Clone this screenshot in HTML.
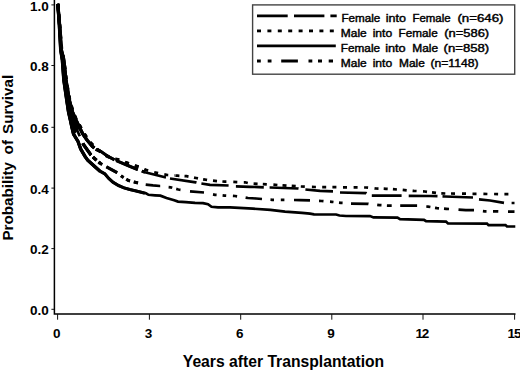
<!DOCTYPE html>
<html><head><meta charset="utf-8"><style>
html,body{margin:0;padding:0;background:#fff;}
body{width:520px;height:373px;overflow:hidden;}
svg{display:block;}
text{font-family:"Liberation Sans",sans-serif;}
</style></head><body>
<svg width="520" height="373" viewBox="0 0 520 373">
<rect width="520" height="373" fill="#fff"/>
<g stroke="#000" stroke-width="1.5" fill="none">
<path d="M54.4 0V314H515.5"/>
</g>
<g stroke="#111" stroke-width="1"><line x1="51.4" y1="309.3" x2="54" y2="309.3"/><line x1="51.4" y1="248.6" x2="54" y2="248.6"/><line x1="51.4" y1="188.1" x2="54" y2="188.1"/><line x1="51.4" y1="127.3" x2="54" y2="127.3"/><line x1="51.4" y1="65.5" x2="54" y2="65.5"/><line x1="51.4" y1="4.9" x2="54" y2="4.9"/><line x1="57.6" y1="314" x2="57.6" y2="319.7"/><line x1="149.4" y1="314" x2="149.4" y2="319.7"/><line x1="240.7" y1="314" x2="240.7" y2="319.7"/><line x1="331.8" y1="314" x2="331.8" y2="319.7"/><line x1="423.0" y1="314" x2="423.0" y2="319.7"/><line x1="514.6" y1="314" x2="514.6" y2="319.7"/></g>
<g font-weight="bold" font-size="13.5" fill="#000"><text x="48.9" y="314.8" text-anchor="end">0.0</text><text x="48.9" y="254.1" text-anchor="end">0.2</text><text x="48.9" y="193.6" text-anchor="end">0.4</text><text x="48.9" y="132.8" text-anchor="end">0.6</text><text x="48.9" y="71.0" text-anchor="end">0.8</text><text x="48.9" y="11.4" text-anchor="end">1.0</text><text x="56.8" y="338.3" text-anchor="middle">0</text><text x="148.6" y="338.3" text-anchor="middle">3</text><text x="239.8" y="338.3" text-anchor="middle">6</text><text x="330.9" y="338.3" text-anchor="middle">9</text><text x="415.5" y="338.3" textLength="13.8" lengthAdjust="spacing">12</text><text x="507.6" y="338.3" textLength="13.8" lengthAdjust="spacing">15</text></g>
<text x="283.5" y="366.6" font-weight="bold" font-size="15.7" text-anchor="middle">Years after Transplantation</text>
<g font-weight="bold" font-size="15.2"><text transform="translate(12.9,240.6) rotate(-90)">Probability</text><text transform="translate(12.9,154.4) rotate(-90)">of</text><text transform="translate(12.9,133.9) rotate(-90)">Survival</text></g>
<g fill="none" stroke="#000" stroke-width="2.7" stroke-linejoin="miter">
<polygon points="57.8,3.9 59.3,25.0 60.7,50.0 62.3,60.0 63.8,80.0 66.7,100.0 68.5,112.0 70.3,120.0 71.8,127.0 73.5,134.0 79.3,127.0 76.0,120.0 72.5,112.0 69.3,100.0 66.0,80.0 63.8,60.0 61.4,50.0 59.6,25.0 57.8,3.9" fill="#000" stroke-width="2"/>
<polyline points="57.8,3.9 59.3,25.0 60.7,50.0 62.3,60.0 63.8,80.0 66.7,100.0 68.5,112.0 70.3,120.0 71.8,127.0 73.5,134.0 78.0,141.4 80.7,149.0 85.0,156.4 87.7,160.2 93.6,165.5 100.0,171.2 104.8,173.8 108.8,178.5 112.9,182.2 118.5,185.5 124.1,187.9 130.0,189.6 136.0,190.9 144.0,192.9 146.0,193.3 148.5,194.8 155.0,195.3 160.4,195.7 166.5,198.0 174.2,200.3 178.0,201.6 185.8,202.2 195.0,202.8 203.0,203.1 208.0,204.2 211.5,206.8 218.0,207.3 230.0,207.4 253.0,208.7 270.4,209.8 285.0,211.6 302.0,212.8 310.0,213.7 314.0,214.4 336.0,214.5 339.5,215.5 346.0,216.0 370.0,216.1 373.5,217.4 397.5,217.7 400.0,219.2 424.0,219.8 426.0,221.2 446.0,221.6 448.0,223.5 487.0,223.6 488.5,225.1 505.5,225.1 507.0,226.5 515.3,226.5"/>
<polyline points="57.8,3.9 59.4,25.0 60.9,50.0 62.8,60.0 64.8,80.0 67.8,100.0 70.3,112.0 73.2,120.0 75.8,127.0 78.8,134.0 80.5,137.9" stroke-dasharray="17 9 4 6 4 6 4 9"/>
<path d="M82.9 143.3 L83.4 144.4 L90.9 155.0 L91.0 155.1 M93.0 157.0 L94.6 158.6 L96.5 160.2 M98.6 162.0 L100.3 163.4 L102.2 164.5 M106.4 166.8 L117.2 172.7 M121.0 175.7 L122.3 176.7 L123.6 177.5 M126.3 179.2 L128.2 180.4 L130.0 180.9 M133.8 181.9 L135.9 182.4 L138.0 182.9 M145.7 184.6 L153.0 185.4 L160.0 186.0 L160.2 186.0 M168.6 187.1 L170.5 187.3 L172.3 187.8 M176.2 188.9 L178.3 189.5 L180.5 189.8 M190.0 191.3 L204.0 192.5 M213.0 194.4 L215.0 194.8 L216.6 194.9 M222.6 195.4 L224.4 195.6 L226.2 195.7 M232.9 195.9 L235.0 196.0 L237.1 196.3 M245.6 197.6 L248.0 198.0 L256.0 198.5 L262.0 199.0 M270.5 199.7 L272.0 199.8 L274.0 199.8 M280.8 199.8 L282.6 199.8 L284.4 199.8 M294.0 200.0 L300.0 200.1 L310.0 200.4 M319.0 200.9 L321.5 201.0 L323.5 201.2 M330.0 201.7 L331.8 201.8 L333.5 202.0 M339.0 202.6 L340.8 202.8 L342.6 202.9 M351.0 203.6 L368.0 203.8 L368.5 203.9 M377.2 204.8 L379.4 205.1 L381.5 205.2 M386.9 205.6 L389.3 205.7 L391.7 205.7 M400.2 205.7 L417.0 205.7 L417.1 205.7 M426.3 206.5 L428.0 206.6 L430.4 207.0 M435.0 207.8 L437.0 208.1 L439.0 208.3 M444.0 208.6 L446.3 208.8 L449.0 209.0 M458.5 209.6 L465.8 210.1 L474.0 210.2 M482.9 211.1 L484.7 211.3 L486.5 211.3 M493.0 211.3 L495.6 211.3 L498.3 211.4 M508.0 211.6 L514.5 211.7 "/>
<path d="M57.8 3.9 L59.6 25.0 L61.4 50.0 L63.8 60.0 L66.0 80.0 L69.3 100.0 L72.5 112.0 L76.0 120.0 L79.3 127.0 L82.8 134.0 L87.0 140.0 L92.5 146.5 L94.4 147.9 M96.0 149.1 L96.5 149.5 L101.0 151.5 L106.0 155.0 L110.0 157.5 L114.5 159.8 M116.2 160.6 L129.0 166.0 L137.5 169.5 L137.8 169.6 M141.8 171.1 L145.0 172.3 L160.0 176.0 L166.0 177.5 M170.0 178.5 L195.7 182.3 L196.5 182.5 M201.4 183.5 L210.0 184.8 L228.6 185.5 M235.9 186.3 L236.0 186.3 L250.0 186.8 L263.8 187.3 M269.6 187.5 L270.0 187.5 L298.0 188.5 L298.5 188.6 M305.4 189.5 L320.0 190.8 L333.0 191.3 M340.0 192.5 L366.0 193.1 L366.5 193.4 M371.8 195.6 L401.6 195.7 M408.7 195.8 L430.0 196.0 L437.5 196.2 M442.5 196.4 L445.0 196.5 L473.0 197.5 M479.0 199.4 L490.0 200.5 L504.0 202.9 M511.6 203.0 L514.5 203.0 "/>
<polyline points="57.8,3.9 59.8,25.0 61.8,50.0 64.0,60.0 66.3,80.0 69.8,100.0 73.2,112.0 76.6,120.0 80.6,127.0 84.6,134.0 89.0,141.0 95.0,147.3 104.3,155.0 112.0,158.5 119.3,159.8 124.7,162.0 129.0,163.6 134.3,165.5 140.0,167.2 145.0,169.6 152.0,171.8 160.0,173.6 167.5,175.0 175.0,175.5" stroke-dasharray="4 6.3"/>
<path d="M175.4 175.6 L177.5 175.7 L179.4 175.8 M184.5 176.1 L186.5 176.2 L188.5 176.6 M194.0 177.6 L196.0 178.0 L198.0 178.4 M203.1 179.3 L205.4 179.7 L207.1 179.9 M213.0 180.7 L215.0 180.9 L217.0 181.1 M222.4 181.5 L225.0 181.7 L226.4 181.7 M233.3 181.9 L237.3 182.1 M243.8 182.3 L245.0 182.3 L247.8 183.0 M253.6 183.7 L257.6 183.9 M262.8 184.1 L266.8 184.3 M273.4 184.7 L277.4 185.0 M282.5 185.3 L286.5 185.6 M291.7 185.9 L295.7 186.2 M300.8 186.5 L304.8 186.7 M311.9 186.9 L315.0 187.0 L315.9 187.0 M322.2 187.1 L326.2 187.1 M332.4 187.2 L336.4 187.2 M343.0 187.3 L347.0 187.3 M353.6 187.4 L357.6 187.4 M364.1 187.5 L366.0 187.5 L368.1 187.7 M374.5 188.3 L376.0 188.5 L378.5 188.6 M383.7 188.7 L386.0 188.8 L387.7 188.9 M392.9 189.2 L396.9 189.5 M402.7 189.9 L406.7 190.3 M412.6 190.8 L414.0 190.9 L416.6 191.0 M423.0 191.4 L425.0 191.5 L427.0 191.8 M432.0 192.4 L436.0 192.9 M441.3 193.4 L445.3 193.5 M451.0 193.5 L455.0 193.6 M462.0 193.7 L466.0 193.7 M472.5 193.8 L475.0 193.8 L476.5 193.8 M483.4 193.9 L487.4 194.0 M494.1 194.0 L498.1 194.1 M504.4 194.2 L508.4 194.2 "/>
<g stroke-width="3.1"><path d="M57.8 3.9 L59.3 25.0 L60.7 50.0 L62.3 60.0 L63.8 80.0 L66.7 100.0 L68.5 112.0 L70.3 120.0 L71.8 127.0 L73.5 134.0 L78.0 141.4 L80.7 149.0 L85.0 156.4 L87.7 160.2 L93.6 165.5 L100.0 171.2 L104.8 173.8 L108.8 178.5 L112.9 182.2 L118.5 185.5 L124.1 187.9 L130.0 189.6 L136.0 190.9 L144.0 192.9 L145.0 193.1 "/><path d="M82.9 143.3 L83.4 144.4 L90.9 155.0 L91.0 155.1 M93.0 157.0 L94.6 158.6 L96.5 160.2 M98.6 162.0 L100.3 163.4 L102.2 164.5 M106.4 166.8 L117.2 172.7 M121.0 175.7 L122.3 176.7 L123.6 177.5 M126.3 179.2 L128.2 180.4 L130.0 180.9 M133.8 181.9 L135.9 182.4 L138.0 182.9 "/><path d="M57.8 3.9 L59.6 25.0 L61.4 50.0 L63.8 60.0 L66.0 80.0 L69.3 100.0 L72.5 112.0 L76.0 120.0 L79.3 127.0 L82.8 134.0 L87.0 140.0 L92.5 146.5 L94.4 147.9 M96.0 149.1 L96.5 149.5 L101.0 151.5 L106.0 155.0 L110.0 157.5 L114.5 159.8 M116.2 160.6 L129.0 166.0 L137.5 169.5 L137.8 169.6 M141.8 171.1 L145.0 172.3 "/><polyline points="57.8,3.9 59.8,25.0 61.8,50.0 64.0,60.0 66.3,80.0 69.8,100.0 73.2,112.0 76.6,120.0 80.6,127.0 84.6,134.0 89.0,141.0 95.0,147.3 104.3,155.0 112.0,158.5 119.3,159.8 124.7,162.0 129.0,163.6 134.3,165.5 140.0,167.2 145.0,169.6" stroke-dasharray="4 6.3"/></g>
<g stroke-width="3.3"><path d="M57.8 3.9 L59.3 25.0 L60.7 50.0 L62.3 60.0 L63.8 80.0 L66.7 100.0 L68.5 112.0 L70.3 120.0 L71.8 127.0 L73.5 134.0 L78.0 141.4 L80.7 149.0 L85.0 156.4 L87.7 160.2 L93.6 165.5 L100.0 171.2 "/><path d="M82.9 143.3 L83.4 144.4 L90.9 155.0 L91.0 155.1 M93.0 157.0 L94.6 158.6 L96.5 160.2 M98.6 162.0 L100.0 163.1 "/><path d="M57.8 3.9 L59.6 25.0 L61.4 50.0 L63.8 60.0 L66.0 80.0 L69.3 100.0 L72.5 112.0 L76.0 120.0 L79.3 127.0 L82.8 134.0 L87.0 140.0 L92.5 146.5 L94.4 147.9 M96.0 149.1 L96.5 149.5 L100.0 151.1 "/></g>
</g>
<rect x="252.6" y="4.9" width="262.1" height="69.3" fill="#fff" stroke="#444" stroke-width="1.4"/>
<g stroke="#000" stroke-width="2.8" fill="none"><path d="M257 15.8H287.7M294 15.8H324.4M330.4 15.8H336.7"/><path d="M257.0 30.9h4"/><path d="M267.4 30.9h4"/><path d="M277.8 30.9h4"/><path d="M288.2 30.9h4"/><path d="M298.6 30.9h4"/><path d="M309.0 30.9h4"/><path d="M319.4 30.9h4"/><path d="M329.8 30.9h4"/><path d="M257 45.9H335.8"/><path d="M257 61.0h3.8M267.7 61.0h3.8M281.2 61.0H297.9M308.5 61.0h3.8M318 61.0h4M328.7 61.0h4.3"/></g>
<g font-size="10.2" fill="#000" stroke="#000" stroke-width="0.4"><text x="341.4" y="21.6" textLength="38.9" lengthAdjust="spacingAndGlyphs">Female</text><text x="385.7" y="21.6" textLength="20.2" lengthAdjust="spacingAndGlyphs">into</text><text x="412.4" y="21.6" textLength="38.2" lengthAdjust="spacingAndGlyphs">Female</text><text x="457.4" y="21.6" textLength="46.1" lengthAdjust="spacingAndGlyphs">(n=646)</text><text x="340.8" y="36.5" textLength="25.9" lengthAdjust="spacingAndGlyphs">Male</text><text x="372.7" y="36.5" textLength="19.5" lengthAdjust="spacingAndGlyphs">into</text><text x="398.6" y="36.5" textLength="39.1" lengthAdjust="spacingAndGlyphs">Female</text><text x="444.2" y="36.5" textLength="45.0" lengthAdjust="spacingAndGlyphs">(n=586)</text><text x="340.8" y="51.5" textLength="39.3" lengthAdjust="spacingAndGlyphs">Female</text><text x="385.2" y="51.5" textLength="20.5" lengthAdjust="spacingAndGlyphs">into</text><text x="412.3" y="51.5" textLength="25.8" lengthAdjust="spacingAndGlyphs">Male</text><text x="443.6" y="51.5" textLength="45.6" lengthAdjust="spacingAndGlyphs">(n=858)</text><text x="340.8" y="66.6" textLength="25.9" lengthAdjust="spacingAndGlyphs">Male</text><text x="372.7" y="66.6" textLength="19.5" lengthAdjust="spacingAndGlyphs">into</text><text x="399.0" y="66.6" textLength="25.8" lengthAdjust="spacingAndGlyphs">Male</text><text x="430.4" y="66.6" textLength="48.1" lengthAdjust="spacingAndGlyphs">(n=1148)</text></g>
</svg>
</body></html>
